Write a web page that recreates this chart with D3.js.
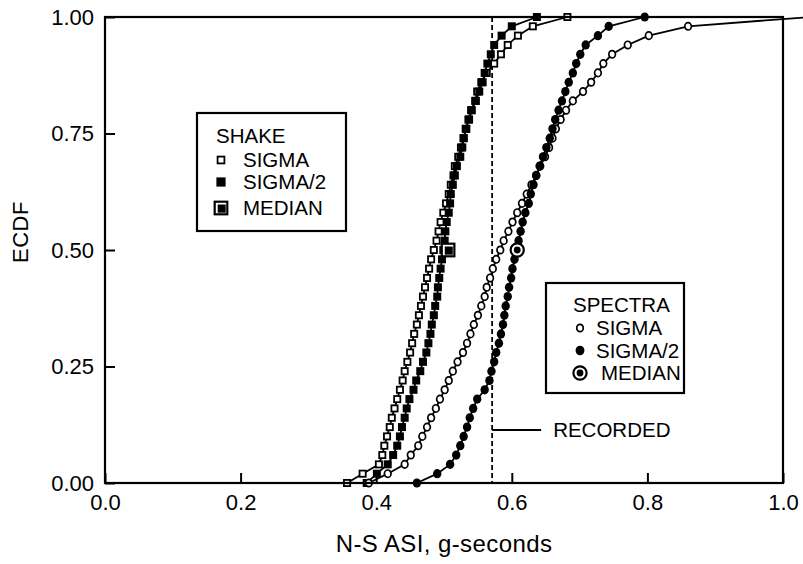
<!DOCTYPE html>
<html>
<head>
<meta charset="utf-8">
<script src="https://cdn.jsdelivr.net/npm/d3@7"></script>
<style>
  body { margin: 0; background: #fff; }
  text { font-family: "Liberation Sans", Arial, Helvetica, sans-serif; fill: #000; }
</style>
</head>
<body>
<svg id="chart" width="803" height="564"></svg>
<script>
// Cumulative probability levels shared by every sample (51 ordered values)
const probLevels = [0.00,0.02,0.04,0.06,0.08,0.10,0.12,0.14,0.16,0.18,
  0.20,0.22,0.24,0.26,0.28,0.30,0.32,0.34,0.36,0.38,
  0.40,0.42,0.44,0.46,0.48,0.50,0.52,0.54,0.56,0.58,
  0.60,0.62,0.64,0.66,0.68,0.70,0.72,0.74,0.76,0.78,
  0.80,0.82,0.84,0.86,0.88,0.90,0.92,0.94,0.96,0.98,1.00];

// N-S ASI (g-seconds), sorted, one value per probability level
const shakeSigma = [0.357,0.380,0.404,0.409,0.412,0.416,0.420,0.423,0.427,0.431,
  0.435,0.439,0.442,0.446,0.450,0.453,0.456,0.460,0.463,0.466,
  0.469,0.472,0.475,0.478,0.481,0.485,0.489,0.492,0.495,0.499,
  0.503,0.507,0.510,0.514,0.516,0.521,0.525,0.529,0.533,0.536,
  0.540,0.546,0.549,0.555,0.563,0.574,0.584,0.594,0.609,0.631,0.682];
const shakeHalfSigma = [0.386,0.401,0.417,0.425,0.431,0.435,0.438,0.442,0.445,0.449,
  0.455,0.459,0.465,0.469,0.474,0.477,0.480,0.482,0.485,0.487,
  0.490,0.491,0.493,0.495,0.497,0.499,0.501,0.502,0.504,0.507,
  0.509,0.510,0.513,0.516,0.519,0.524,0.527,0.529,0.532,0.537,
  0.541,0.547,0.552,0.557,0.560,0.564,0.569,0.574,0.585,0.600,0.637];
const spectraSigma = [0.389,0.417,0.442,0.451,0.462,0.468,0.475,0.481,0.488,0.494,
  0.501,0.507,0.513,0.520,0.528,0.534,0.539,0.544,0.550,0.555,
  0.560,0.563,0.568,0.572,0.577,0.583,0.588,0.595,0.601,0.608,
  0.615,0.622,0.629,0.636,0.642,0.649,0.655,0.660,0.665,0.672,
  0.680,0.690,0.705,0.717,0.727,0.735,0.748,0.771,0.802,0.860,1.040];
const spectraHalfSigma = [0.460,0.490,0.509,0.518,0.524,0.529,0.534,0.538,0.543,0.549,
  0.560,0.567,0.570,0.574,0.577,0.581,0.584,0.587,0.589,0.591,
  0.594,0.596,0.599,0.601,0.604,0.607,0.610,0.613,0.616,0.620,
  0.625,0.628,0.632,0.636,0.641,0.646,0.651,0.656,0.660,0.664,
  0.669,0.674,0.679,0.684,0.690,0.695,0.701,0.709,0.727,0.743,0.796];

// Median runs and the recorded value
const shakeMedian = [0.506, 0.50];
const spectraMedian = [0.608, 0.50];
const recordedASI = 0.571;

// Axis ticks
const xTicks = [0.0, 0.2, 0.4, 0.6, 0.8, 1.0];
const yTicks = [0.00, 0.25, 0.50, 0.75, 1.00];

const svg = d3.select("#chart");
const plot = { left: 105, right: 783, top: 17, bottom: 483 };
const x = d3.scaleLinear().domain([0, 1]).range([plot.left, plot.right]);
const y = d3.scaleLinear().domain([0, 1]).range([plot.bottom, plot.top]);
const TICK_FS = 22, LEGEND_FS = 20.5;

// Marker painters
function marker(g, kind, cx, cy, scale = 1) {
  const s = g.append("g").attr("transform", `translate(${cx},${cy})`);
  if (kind === "openSquare") {
    const a = 6.2 * scale;
    s.append("rect").attr("x", -a/2).attr("y", -a/2).attr("width", a).attr("height", a)
      .attr("fill", "#fff").attr("stroke", "#000").attr("stroke-width", 1.8);
  } else if (kind === "filledSquare") {
    const a = 8 * scale;
    s.append("rect").attr("x", -a/2).attr("y", -a/2).attr("width", a).attr("height", a)
      .attr("fill", "#000");
  } else if (kind === "openCircle") {
    s.append("ellipse").attr("rx", 3.3 * scale).attr("ry", 3.7 * scale)
      .attr("fill", "#fff").attr("stroke", "#000").attr("stroke-width", 1.7);
  } else if (kind === "filledCircle") {
    s.append("ellipse").attr("rx", 4.2 * scale).attr("ry", 4.6 * scale).attr("fill", "#000");
  } else if (kind === "medianSquare") {
    s.append("rect").attr("x", -6.3).attr("y", -6.3).attr("width", 12.6).attr("height", 12.6)
      .attr("fill", "#fff").attr("stroke", "#000").attr("stroke-width", 2.2);
    s.append("rect").attr("x", -3.3).attr("y", -3.5).attr("width", 8).attr("height", 8.2).attr("fill", "#000");
  } else if (kind === "medianCircle") {
    s.append("circle").attr("r", 6.6).attr("fill", "#fff").attr("stroke", "#000").attr("stroke-width", 2.2);
    s.append("circle").attr("r", 3.4).attr("fill", "#000");
  }
}

// ECDF series
const series = [
  { values: shakeSigma, kind: "openSquare" },
  { values: shakeHalfSigma, kind: "filledSquare" },
  { values: spectraSigma, kind: "openCircle" },
  { values: spectraHalfSigma, kind: "filledCircle" }
];

// Recorded value (dashed vertical)
svg.append("line").attr("x1", x(recordedASI)).attr("x2", x(recordedASI))
  .attr("y1", plot.top).attr("y2", plot.bottom)
  .attr("stroke", "#000").attr("stroke-width", 1.8).attr("stroke-dasharray", "5,3");

const line = d3.line().x(d => x(d[0])).y(d => y(d[1]));
series.forEach(s => {
  const pts = s.values.map((v, i) => [v, probLevels[i]]);
  svg.append("path").attr("d", line(pts)).attr("fill", "none")
    .attr("stroke", "#000").attr("stroke-width", 1.8);
  const g = svg.append("g");
  pts.forEach(p => marker(g, s.kind, x(p[0]), y(p[1])));
});

// Frame
svg.append("rect").attr("x", plot.left).attr("y", plot.top)
  .attr("width", plot.right - plot.left).attr("height", plot.bottom - plot.top)
  .attr("fill", "none").attr("stroke", "#000").attr("stroke-width", 2.2);

// Axes with inward ticks
const yAxis = svg.append("g").attr("transform", `translate(${plot.left},0)`)
  .call(d3.axisLeft(y).tickValues(yTicks).tickFormat(d3.format(".2f"))
    .tickSizeInner(-10).tickSizeOuter(0).tickPadding(11));
const xAxis = svg.append("g").attr("transform", `translate(0,${plot.bottom})`)
  .call(d3.axisBottom(x).tickValues(xTicks).tickFormat(d3.format(".1f"))
    .tickSizeInner(-10).tickSizeOuter(0).tickPadding(11));
[yAxis, xAxis].forEach(ax => {
  ax.select(".domain").remove();
  ax.selectAll("line").attr("stroke", "#000").attr("stroke-width", 2);
  ax.selectAll("text").attr("font-size", TICK_FS).attr("font-family", null);
});

// Axis titles
svg.append("text").attr("x", (plot.left + plot.right) / 2).attr("y", 552)
  .attr("text-anchor", "middle").attr("font-size", 24).attr("letter-spacing", 0.4)
  .text("N-S ASI, g-seconds");
svg.append("text").attr("transform", "translate(28,232) rotate(-90)")
  .attr("text-anchor", "middle").attr("font-size", 22).attr("letter-spacing", 0.5).text("ECDF");

// Median markers
marker(svg, "medianSquare", x(shakeMedian[0]), y(shakeMedian[1]));
marker(svg, "medianCircle", x(spectraMedian[0]), y(spectraMedian[1]));

// Recorded label
svg.append("line").attr("x1", x(recordedASI)).attr("x2", x(recordedASI) + 49)
  .attr("y1", 430).attr("y2", 430).attr("stroke", "#000").attr("stroke-width", 1.8);
svg.append("text").attr("x", x(recordedASI) + 61).attr("y", 437)
  .attr("font-size", LEGEND_FS).text("RECORDED");

// Legends
function legend(box, title, titleX, items) {
  const g = svg.append("g");
  g.append("rect").attr("x", box.x).attr("y", box.y).attr("width", box.w).attr("height", box.h)
    .attr("fill", "#fff").attr("stroke", "#000").attr("stroke-width", 2.2);
  g.append("text").attr("x", titleX).attr("y", box.titleY).attr("font-size", LEGEND_FS).text(title);
  items.forEach(it => {
    marker(g, it.kind, it.mx, it.base - 7, it.scale || 1);
    g.append("text").attr("x", it.tx).attr("y", it.base).attr("font-size", LEGEND_FS).text(it.label);
  });
}
legend({ x: 197, y: 113, w: 149, h: 118, titleY: 143 }, "SHAKE", 216, [
  { kind: "openSquare", mx: 221, tx: 243, base: 167, label: "SIGMA", scale: 1.1 },
  { kind: "filledSquare", mx: 221, tx: 243, base: 189, label: "SIGMA/2", scale: 1.15 },
  { kind: "medianSquare", mx: 221, tx: 243, base: 215, label: "MEDIAN" }
]);
legend({ x: 546, y: 283, w: 138, h: 110, titleY: 312 }, "SPECTRA", 573, [
  { kind: "openCircle", mx: 580, tx: 596, base: 335, label: "SIGMA", scale: 1.0 },
  { kind: "filledCircle", mx: 580, tx: 596, base: 357.5, label: "SIGMA/2", scale: 1.05 },
  { kind: "medianCircle", mx: 580, tx: 601, base: 380, label: "MEDIAN" }
]);
</script>
</body>
</html>
